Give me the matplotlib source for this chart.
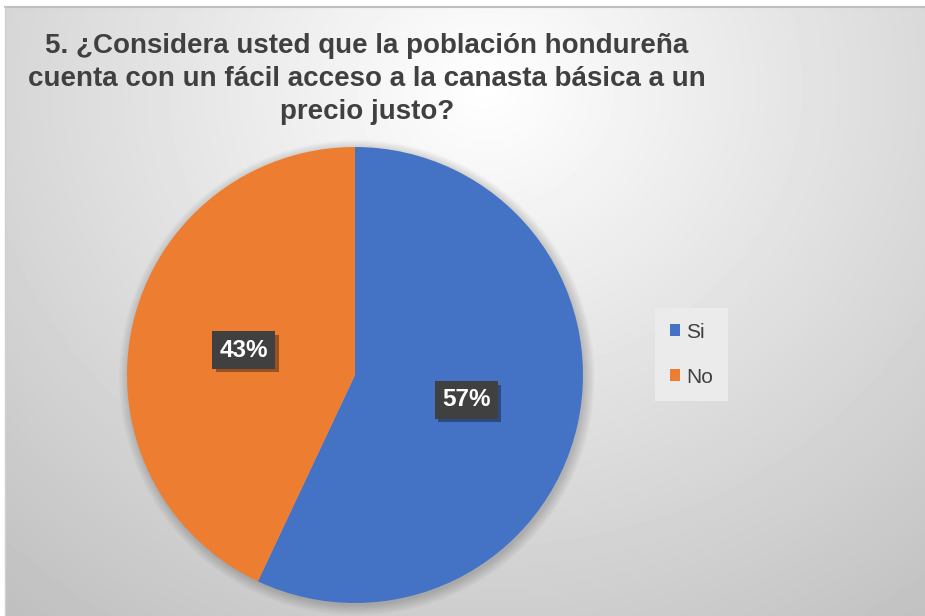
import numpy as np
import matplotlib.pyplot as plt
from matplotlib.patches import Circle
import matplotlib.patheffects as pe

# Data
labels = ["Si", "No"]
values = [57, 43]
colors = ["#4472C4", "#ED7D31"]
title = "5. ¿Considera usted que la población hondureña\ncuenta con un fácil acceso a la canasta básica a un\nprecio justo?"

plt.rcParams["font.family"] = ["Liberation Sans", "DejaVu Sans"]

W, H = 925, 616
fig = plt.figure(figsize=(W / 100, H / 100), dpi=100)
fig.patch.set_facecolor("white")

# Background gradient (radial, light in the upper middle)
bg = fig.add_axes([5 / W, 0, 1 - 5 / W, 1 - 7 / H])
yy, xx = np.mgrid[0:H - 7, 0:W - 5]
dist = np.sqrt((xx - 480) ** 2 + ((yy - 80) * 1.1) ** 2)
shade = np.clip(1.0 - dist / 780 * 0.26, 0.74, 1.0)
bg.imshow(shade, cmap="gray", vmin=0, vmax=1, aspect="auto", interpolation="bilinear")
bg.set_axis_off()
# top and left border lines
bg.plot([0, 1], [1, 1], transform=bg.transAxes, color="#bfbfbf", lw=1.5, clip_on=False)
bg.plot([0, 0], [0, 1], transform=bg.transAxes, color="#d0d0d0", lw=1.0, clip_on=False)

# Pie axes
cx, cy, r = 355, 375, 228
ax = fig.add_axes([(cx - r) / W, (H - cy - r) / H, 2 * r / W, 2 * r / H])

# soft shadow behind pie
for k in range(8):
    ax.add_patch(Circle((0.008, -0.012), 1 + k * 0.006, color="black",
                        alpha=0.022, zorder=0, linewidth=0, clip_on=False))

wedges, texts, autotexts = ax.pie(
    values,
    colors=colors,
    startangle=90,
    counterclock=False,
    autopct="%1.0f%%",
    pctdistance=0.5,
    wedgeprops=dict(linewidth=0),
    textprops=dict(color="white", fontsize=17.5, fontweight="bold"),
)
for w in wedges:
    w.set_zorder(2)
for t in autotexts:
    t.set_zorder(5)
    t.set_bbox(dict(boxstyle="square,pad=0.3", facecolor="#404040", edgecolor="none"))
    t.get_bbox_patch().set_path_effects([
        pe.SimplePatchShadow(offset=(2.5, -2.5), alpha=0.35, shadow_rgbFace="black"),
        pe.Normal(),
    ])
ax.set_xlim(-1, 1)
ax.set_ylim(-1, 1)
ax.set_axis_off()

# Title
fig.text(367 / W, 1 - 79 / H, title, ha="center", va="center",
         fontsize=20, fontweight="bold", color="#404040",
         multialignment="center", linespacing=1.33)

# Legend
leg = fig.legend(
    wedges, labels,
    loc="upper left",
    bbox_to_anchor=(655 / W, 1 - 308 / H),
    frameon=True,
    fontsize=15,
    labelcolor="#404040",
    handlelength=0.5,
    handleheight=0.5,
    handletextpad=0.3,
    labelspacing=1.25,
    borderpad=0.7,
    borderaxespad=0,
    fancybox=False,
)
leg.get_frame().set_facecolor("#ebebeb")
leg.get_frame().set_edgecolor("none")
leg.get_frame().set_alpha(1)

fig.savefig("out.png", dpi=100)
